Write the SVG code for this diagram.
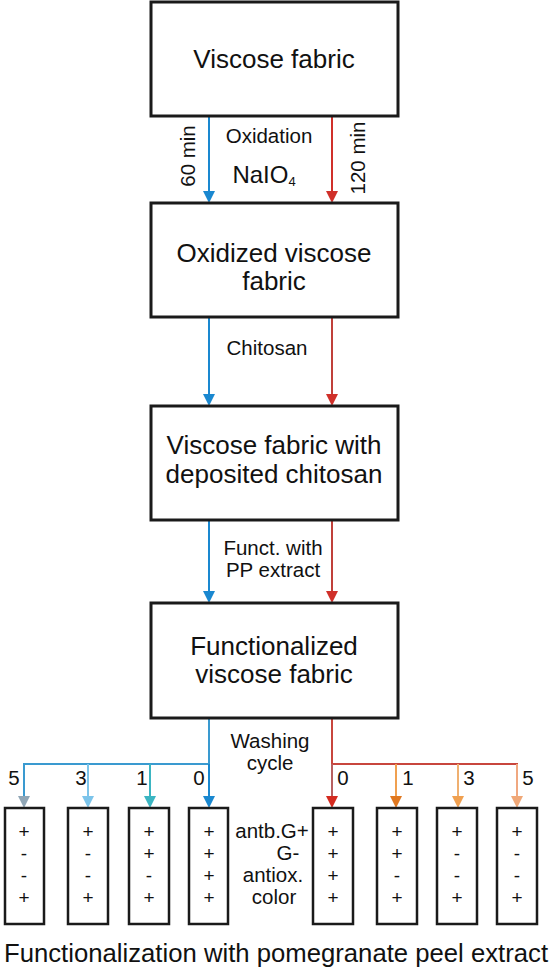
<svg xmlns="http://www.w3.org/2000/svg" width="550" height="974" viewBox="0 0 550 974">
<style>
.box{fill:#fff;stroke:#1a1a1a;stroke-width:3}
.sbox{fill:#fff;stroke:#1a1a1a;stroke-width:2.5}
.t{font-family:"Liberation Sans",Arial,sans-serif;fill:#111;text-anchor:middle}
.big{font-size:26px}
.mid{font-size:20.5px}
.sg{font-size:19px}
.ln{fill:none;stroke-width:2}
</style>
<rect width="550" height="974" fill="#fff"/>
<g id="connectors">
  <line class="ln" x1="209" y1="117" x2="209" y2="193" stroke="#1a88d0"/>
  <polygon points="203,191 215,191 209,203" fill="#1a88d0"/>
  <line class="ln" x1="332" y1="117" x2="332" y2="193" stroke="#d0302a"/>
  <polygon points="326,191 338,191 332,203" fill="#d0302a"/>
  <line class="ln" x1="209" y1="318" x2="209" y2="396" stroke="#1a88d0"/>
  <polygon points="203,394 215,394 209,406" fill="#1a88d0"/>
  <line class="ln" x1="332" y1="318" x2="332" y2="396" stroke="#c0403a"/>
  <polygon points="326,394 338,394 332,406" fill="#d0302a"/>
  <line class="ln" x1="209" y1="521" x2="209" y2="593" stroke="#1a88d0"/>
  <polygon points="203,591 215,591 209,603" fill="#1a88d0"/>
  <line class="ln" x1="332" y1="521" x2="332" y2="593" stroke="#c0403a"/>
  <polygon points="326,591 338,591 332,603" fill="#d0302a"/>
  <polyline class="ln" points="209,719 209,764 24,764 24,798" stroke="#3a9ad0"/>
  <line class="ln" x1="88" y1="764" x2="88" y2="798" stroke="#7cc4ea"/>
  <line class="ln" x1="150" y1="764" x2="150" y2="798" stroke="#3bb5c2"/>
  <line class="ln" x1="209" y1="764" x2="209" y2="798" stroke="#1a88d0"/>
  <polygon points="18,796 30,796 24,808" fill="#90a6b6"/>
  <polygon points="82,796 94,796 88,808" fill="#7cc4ea"/>
  <polygon points="144,796 156,796 150,808" fill="#3bb5c2"/>
  <polygon points="203,796 215,796 209,808" fill="#1a88d0"/>
  <polyline class="ln" points="332,719 332,764 517,764 517,798" stroke="#c8463e"/>
  <line class="ln" x1="332" y1="764" x2="332" y2="798" stroke="#b86060"/>
  <line class="ln" x1="396" y1="764" x2="396" y2="798" stroke="#f0a050"/>
  <line class="ln" x1="458" y1="764" x2="458" y2="798" stroke="#f0b070"/>
  <line class="ln" x1="517" y1="764" x2="517" y2="798" stroke="#f0a880"/>
  <polygon points="326,796 338,796 332,808" fill="#d42a1f"/>
  <polygon points="390,796 402,796 396,808" fill="#e07820"/>
  <polygon points="452,796 464,796 458,808" fill="#f0a050"/>
  <polygon points="511,796 523,796 517,808" fill="#f0a878"/>
</g>
<g id="n1"><rect class="box" x="151" y="2" width="247" height="114"/><text class="t big" x="274" y="68">Viscose fabric</text></g>
<g id="n2"><rect class="box" x="151" y="203" width="247" height="114"/><text class="t big" x="274" y="262">Oxidized viscose</text><text class="t big" x="274" y="290">fabric</text></g>
<g id="n3"><rect class="box" x="151" y="406" width="247" height="114"/><text class="t big" x="274" y="454">Viscose fabric with</text><text class="t big" x="274" y="483">deposited chitosan</text></g>
<g id="n4"><rect class="box" x="151" y="603" width="247" height="115"/><text class="t big" x="274" y="655">Functionalized</text><text class="t big" x="274" y="683">viscose fabric</text></g>
<g id="labels">
  <text class="t mid" x="269" y="143">Oxidation</text>
  <text class="t" font-size="24" x="264" y="183">NaIO<tspan font-size="13" dy="3">4</tspan></text>
  <text class="t mid" transform="translate(195,156) rotate(-90)">60 min</text>
  <text class="t mid" transform="translate(365,158) rotate(-90)">120 min</text>
  <text class="t mid" x="267" y="355">Chitosan</text>
  <text class="t mid" x="273" y="555">Funct. with</text>
  <text class="t mid" x="273" y="577">PP extract</text>
  <text class="t mid" x="270" y="748">Washing</text>
  <text class="t mid" x="270" y="770">cycle</text>
  <text class="t mid" x="14" y="785">5</text>
  <text class="t mid" x="81" y="785">3</text>
  <text class="t mid" x="142" y="785">1</text>
  <text class="t mid" x="199" y="785">0</text>
  <text class="t mid" x="343" y="785">0</text>
  <text class="t mid" x="408" y="785">1</text>
  <text class="t mid" x="469" y="785">3</text>
  <text class="t mid" x="528" y="785">5</text>
  <text class="t mid" x="272" y="838">antb.G+</text>
  <text class="t mid" x="288" y="860">G-</text>
  <text class="t mid" x="273" y="882">antiox.</text>
  <text class="t mid" x="274" y="904">color</text>
  <text class="t" font-size="25.7" x="276" y="962">Functionalization with pomegranate peel extract</text>
</g>
<g id="r5"><rect class="sbox" x="5" y="808" width="39" height="116"/><text class="t sg" x="24" y="838">+</text><text class="t sg" x="24" y="860">-</text><text class="t sg" x="24" y="882">-</text><text class="t sg" x="24" y="904">+</text></g>
<g id="r3"><rect class="sbox" x="68" y="808" width="40" height="116"/><text class="t sg" x="88" y="838">+</text><text class="t sg" x="88" y="860">-</text><text class="t sg" x="88" y="882">-</text><text class="t sg" x="88" y="904">+</text></g>
<g id="r1"><rect class="sbox" x="129" y="808" width="40" height="116"/><text class="t sg" x="149" y="838">+</text><text class="t sg" x="149" y="860">+</text><text class="t sg" x="149" y="882">-</text><text class="t sg" x="149" y="904">+</text></g>
<g id="r0"><rect class="sbox" x="189" y="808" width="39" height="116"/><text class="t sg" x="209" y="838">+</text><text class="t sg" x="209" y="860">+</text><text class="t sg" x="209" y="882">+</text><text class="t sg" x="209" y="904">+</text></g>
<g id="s0"><rect class="sbox" x="313" y="808" width="40" height="116"/><text class="t sg" x="333" y="838">+</text><text class="t sg" x="333" y="860">+</text><text class="t sg" x="333" y="882">+</text><text class="t sg" x="333" y="904">+</text></g>
<g id="s1"><rect class="sbox" x="377" y="808" width="40" height="116"/><text class="t sg" x="397" y="838">+</text><text class="t sg" x="397" y="860">+</text><text class="t sg" x="397" y="882">-</text><text class="t sg" x="397" y="904">+</text></g>
<g id="s3"><rect class="sbox" x="437" y="808" width="40" height="116"/><text class="t sg" x="457" y="838">+</text><text class="t sg" x="457" y="860">-</text><text class="t sg" x="457" y="882">-</text><text class="t sg" x="457" y="904">+</text></g>
<g id="s5"><rect class="sbox" x="497" y="808" width="40" height="116"/><text class="t sg" x="517" y="838">+</text><text class="t sg" x="517" y="860">-</text><text class="t sg" x="517" y="882">-</text><text class="t sg" x="517" y="904">+</text></g>
</svg>
